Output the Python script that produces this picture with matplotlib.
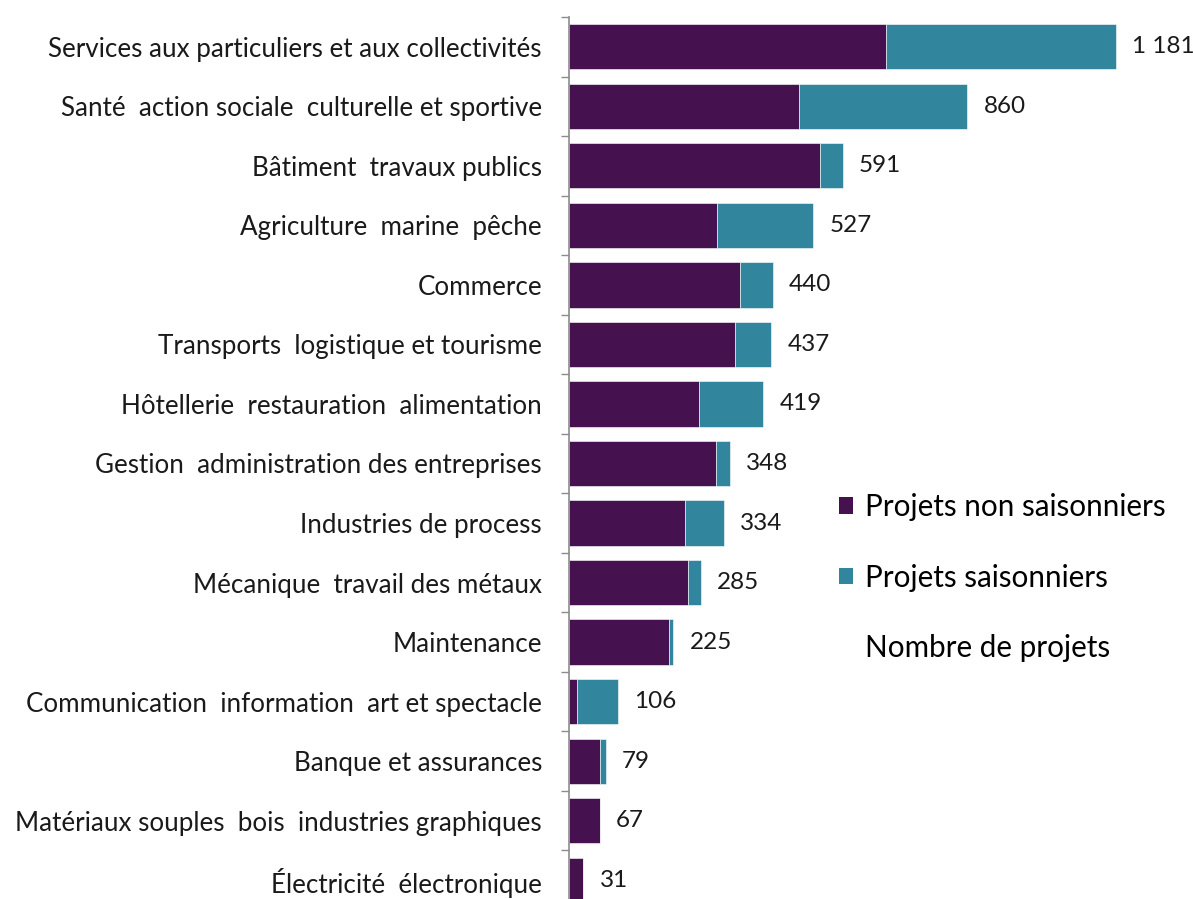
import numpy as np
import matplotlib.pyplot as plt
from matplotlib.patches import Patch
from matplotlib.ticker import FixedLocator

plt.rcParams['font.family'] = ['Lato', 'DejaVu Sans']

secteurs = [
    "Services aux particuliers et aux collectivités",
    "Santé  action sociale  culturelle et sportive",
    "Bâtiment  travaux publics",
    "Agriculture  marine  pêche",
    "Commerce",
    "Transports  logistique et tourisme",
    "Hôtellerie  restauration  alimentation",
    "Gestion  administration des entreprises",
    "Industries de process",
    "Mécanique  travail des métaux",
    "Maintenance",
    "Communication  information  art et spectacle",
    "Banque et assurances",
    "Matériaux souples  bois  industries graphiques",
    "Électricité  électronique",
]
non_saisonniers = [684, 497, 541, 319, 369, 358, 280, 318, 251, 256, 215, 17, 68, 67, 31]
saisonniers = [497, 363, 50, 208, 71, 79, 139, 30, 83, 29, 10, 89, 11, 0, 0]
totaux = [1181, 860, 591, 527, 440, 437, 419, 348, 334, 285, 225, 106, 79, 67, 31]

violet = "#45124F"
bleu = "#31859C"

fig = plt.figure(figsize=(11.93, 8.99), dpi=100)
ax = fig.add_axes([569 / 1193, 1 - 910 / 899, 0.5, 893 / 899])

y = np.arange(len(secteurs))
ax.barh(y, non_saisonniers, height=0.76, color=violet, edgecolor="white", linewidth=0.4)
ax.barh(y, saisonniers, left=non_saisonniers, height=0.76, color=bleu,
        edgecolor="white", linewidth=0.4)

for yi, t in zip(y, totaux):
    txt = f"{t:,}".replace(",", " ")
    ax.text(t + 35, yi, txt, va="center", ha="left", fontsize=17.5, color="#1a1a1a")

ax.set_ylim(len(secteurs) - 0.5, -0.5)
ax.set_xlim(0, 1288)
ax.set_yticks(y)
ax.set_yticklabels(secteurs, fontsize=18.7, color="#1a1a1a")
ax.yaxis.set_minor_locator(FixedLocator(np.arange(-0.5, len(secteurs), 1)))
ax.tick_params(axis="y", which="major", length=0, pad=19.5)
ax.tick_params(axis="y", which="minor", length=6, color="#8c8c8c", width=1)
ax.set_xticks([])
for s in ["top", "right", "bottom"]:
    ax.spines[s].set_visible(False)
ax.spines["left"].set_color("#8c8c8c")
ax.spines["left"].set_linewidth(1.2)

handles = [Patch(facecolor=violet), Patch(facecolor=bleu),
           Patch(facecolor="none", edgecolor="none")]
labels = ["Projets non saisonniers", "Projets saisonniers", "Nombre de projets"]
fig.legend(handles, labels, loc="upper left", bbox_to_anchor=(812 / 1193, 1 - 466 / 899),
           frameon=False, fontsize=21.3, handlelength=0.5, handleheight=0.5,
           handletextpad=0.4, labelspacing=1.45)

fig.savefig("out.png", dpi=100)
